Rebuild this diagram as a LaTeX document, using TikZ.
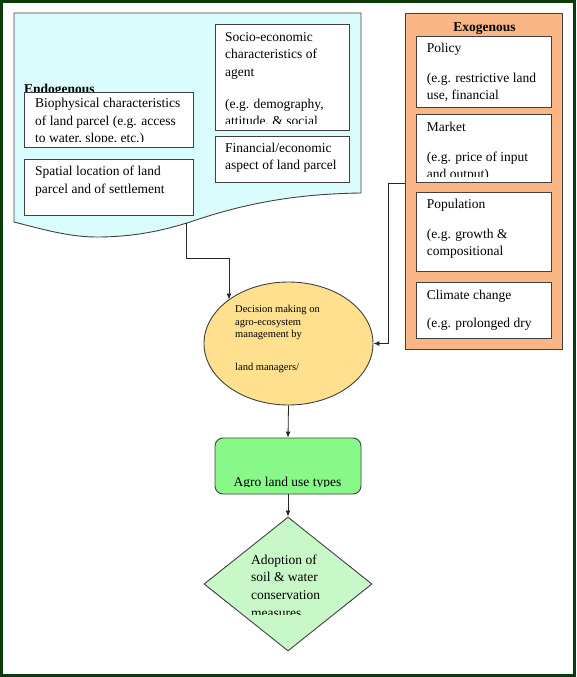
\documentclass[tikz,border=0pt]{standalone}
\usepackage{fontspec}
\setmainfont{Liberation Serif}
\usetikzlibrary{shapes.geometric,arrows.meta}
\definecolor{framegreen}{HTML}{0B3A0B}
\definecolor{doccyan}{HTML}{DAFCFD}
\definecolor{exoorange}{HTML}{FBB686}
\definecolor{ellyellow}{HTML}{FEE08E}
\definecolor{agrogreen}{HTML}{88F888}
\definecolor{diagreen}{HTML}{C8F7C8}
\definecolor{edgegray}{HTML}{404040}
\begin{document}
\begin{tikzpicture}[x=1pt,y=-1pt,
  box/.style={draw=edgegray, line width=0.9pt, fill=white, rectangle, inner sep=0pt, anchor=north west},
  txt/.style={anchor=north west, inner sep=0pt, align=left, font=\fontsize{13.5}{17.6}\selectfont},
  lbl/.style={inner sep=0pt, font=\fontsize{13.5}{17.6}\selectfont\bfseries},
  arr/.style={draw=black!85, line width=0.8pt, -{Latex[length=6pt,width=5pt]}}]
\useasboundingbox (0,0) rectangle (576,677);
% frame
\draw[framegreen, line width=3pt] (1.5,1.5) rectangle (574.5,675.5);
% endogenous document shape
\draw[draw=edgegray, fill=doccyan, line width=0.9pt] (14,13) -- (361,13) -- (361,193)
  .. controls (290,194) and (240,205) .. (190,222)
  .. controls (165,230) and (135,237) .. (97,237)
  .. controls (70,237) and (45,230) .. (14,222) -- cycle;
\coordinate (docb) at (186,223.3);
\node[lbl, anchor=base west] (endo) at (24,93.5) {Endogenous};
% endogenous boxes
\node[box, minimum width=134, minimum height=106] (socio) at (215,24) {};
\begin{scope}
\clip (215,24) rectangle (349,123.4);
\node[txt] (sociot) at (225,28.7) {\strut Socio-economic\\characteristics of\\agent\\[14pt](e.g. demography,\\attitude, \& social};
\end{scope}
\node[box, minimum width=134, minimum height=46] (fin) at (215,136) {};
\node[txt] (fint) at (225,139.6) {\strut Financial/economic\\aspect of land parcel};
\node[box, minimum width=169, minimum height=55] (bio) at (24,92) {};
\begin{scope}
\clip (24,92) rectangle (193,141);
\node[txt] (biot) at (35,95.2) {\strut Biophysical characteristics\\of land parcel (e.g. access\\to water, slope, etc.)};
\end{scope}
\node[box, minimum width=169, minimum height=56] (spat) at (24,159) {};
\node[txt] (spatt) at (35,162.9) {\strut Spatial location of land\\parcel and of settlement};
% exogenous
\node[draw=edgegray, line width=0.9pt, fill=exoorange, rectangle, inner sep=0pt, anchor=north west,
      minimum width=157, minimum height=336] (exo) at (405,13) {};
\node[lbl, anchor=base] (exol) at (484.5,31.5) {Exogenous};
\node[box, minimum width=135, minimum height=71] (policy) at (416,36) {};
\node[txt] (policyt) at (426.7,39.6) {\strut Policy\\[12.4pt](e.g. restrictive land\\use, financial};
\node[box, minimum width=135, minimum height=68] (market) at (416,114) {};
\begin{scope}
\clip (416,114) rectangle (551,176.5);
\node[txt] (markett) at (426.7,118.7) {\strut Market\\[12.4pt](e.g. price of input\\and output)};
\end{scope}
\node[box, minimum width=135, minimum height=79] (pop) at (416,192) {};
\node[txt] (popt) at (426.7,195.6) {\strut Population\\[12.4pt](e.g. growth \&\\compositional};
\node[box, minimum width=135, minimum height=56] (clim) at (416,282) {};
\node[txt] (climt) at (426.7,286.6) {\strut Climate change\\[11pt](e.g. prolonged dry};
% decision ellipse
\node[ellipse, draw=edgegray, line width=0.9pt, fill=ellyellow, minimum width=169, minimum height=123, inner sep=0pt] (dec) at (288.5,343.5) {};
\node[anchor=north west, inner sep=0pt, align=left, font=\fontsize{10.5}{12.5}\selectfont] (dect) at (235,303.6)
  {\strut Decision making on\\agro-ecosystem\\management by\\[20.5pt]land managers/};
% agro land use box
\node[draw=edgegray, line width=0.9pt, fill=agrogreen, rectangle, rounded corners=8pt, inner sep=0pt,
      minimum width=146, minimum height=56] (agro) at (288,466) {};
\begin{scope}
\clip (215,438) rectangle (361,486.2);
\node[inner sep=0pt, anchor=base, font=\fontsize{13.5}{17.6}\selectfont] (agrot) at (287.5,486.5) {Agro land use types};
\end{scope}
% adoption diamond
\node[diamond, draw=edgegray, line width=0.9pt, fill=diagreen, inner sep=0pt, minimum width=168, minimum height=134] (adopt) at (288,584) {};
\begin{scope}
\clip (200,517) rectangle (380,614.8);
\node[txt] (adoptt) at (251,551.7) {\strut Adoption of\\soil \& water\\conservation\\measures};
\end{scope}
% connectors
\coordinate (bend1) at (229,258);
\coordinate (tip1) at (229,299.5);
\draw[arr] (docb) |- (bend1) -- (tip1);
\draw[arr] (exo.west |- market.south) -- ++(-17,0) |- (dec.east);
\draw[arr] (dec.south) -- (agro.north);
\draw[arr] (agro.south) -- (adopt.north);
\end{tikzpicture}
\end{document}
